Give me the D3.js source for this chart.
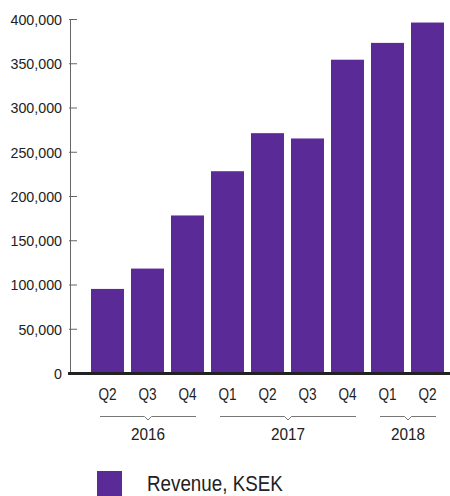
<!DOCTYPE html>
<html>
<head>
<meta charset="utf-8">
<script src="https://cdn.jsdelivr.net/npm/d3@7"></script>
<style>
  body { margin: 0; background: #fff; }
  svg { display: block; font-family: "Liberation Sans", Arial, sans-serif; }
</style>
</head>
<body>
<svg id="chart" width="450" height="496"></svg>
<script>
// data
var quarters = ['Q2', 'Q3', 'Q4', 'Q1', 'Q2', 'Q3', 'Q4', 'Q1', 'Q2'];
var years = ['2016', '2016', '2016', '2017', '2017', '2017', '2017', '2018', '2018'];
var revenue = [95000, 118000, 178000, 228000, 271000, 265000, 354000, 373000, 396000];
var yTicks = [0, 50000, 100000, 150000, 200000, 250000, 300000, 350000, 400000];
var seriesName = 'Revenue, KSEK';

var barColor = '#5a2a96';
var textColor = '#222';
var svg = d3.select('#chart');

// condensed look: squeeze a text placed at (x, y) horizontally
function squeeze(sel, sx) {
    sel.attr('transform', function () {
        var t = d3.select(this);
        var px = +t.attr('x'), py = +t.attr('y');
        return 'translate(' + px + ',' + py + ') scale(' + sx + ',1) translate(' + (-px) + ',' + (-py) + ')';
    });
}

var ids = quarters.map(function (q, i) { return i; });
var x = d3.scaleBand().domain(ids).range([91, 444]).paddingInner(0.175).paddingOuter(0);
var y = d3.scaleLinear().domain([0, 400000]).range([373, 19]);

// y axis
var yAxis = svg.append('g').attr('transform', 'translate(70,0)')
    .call(d3.axisRight(y).tickValues(yTicks).tickSize(7).tickFormat(d3.format(',')));
yAxis.select('.domain').attr('stroke', '#666').attr('d', 'M0.5,' + y(400000) + 'V' + y(0));
yAxis.selectAll('.tick line').attr('stroke', '#666').attr('x1', -1);
yAxis.selectAll('.tick text')
    .attr('x', -8)
    .attr('y', 0)
    .attr('dy', '0.35em')
    .attr('text-anchor', 'end')
    .attr('fill', textColor)
    .style('font-size', '15.5px')
    .call(squeeze, 0.92);

// bars
svg.append('g').selectAll('rect')
    .data(revenue)
    .join('rect')
    .attr('x', function (d, i) { return x(i); })
    .attr('y', function (d) { return y(d); })
    .attr('width', x.bandwidth())
    .attr('height', function (d) { return y(0) - y(d); })
    .attr('fill', barColor);

// baseline
svg.append('line')
    .attr('x1', 68).attr('x2', 450)
    .attr('y1', y(0) + 0.5).attr('y2', y(0) + 0.5)
    .attr('stroke', '#222').attr('stroke-width', 3);

// quarter labels
svg.append('g').selectAll('text')
    .data(quarters)
    .join('text')
    .attr('x', function (d, i) { return x(i) + x.bandwidth() / 2; })
    .attr('y', 400)
    .attr('text-anchor', 'middle')
    .attr('fill', textColor)
    .style('font-size', '17px')
    .text(function (d) { return d; })
    .call(squeeze, 0.8);

// year brackets
var yearGroups = d3.groups(ids, function (i) { return years[i]; });
var brY = 416.5;
function brStart(g) { return x(g[1][0]) + 9; }
function brEnd(g) { return x(g[1][g[1].length - 1]) + x.bandwidth() - 8; }
var br = svg.append('g').selectAll('g')
    .data(yearGroups)
    .join('g');
br.append('path')
    .attr('fill', 'none')
    .attr('stroke', '#777')
    .attr('stroke-width', 1)
    .attr('d', function (g) {
        var a = brStart(g), b = brEnd(g), m = (a + b) / 2;
        return 'M' + a + ',' + brY + 'H' + (m - 3.5) + 'L' + m + ',' + (brY + 3.5) + 'L' + (m + 3.5) + ',' + brY + 'H' + b;
    });
br.append('text')
    .attr('x', function (g) { return (brStart(g) + brEnd(g)) / 2; })
    .attr('y', 440.5)
    .attr('text-anchor', 'middle')
    .attr('fill', textColor)
    .style('font-size', '16.5px')
    .text(function (g) { return g[0]; })
    .call(squeeze, 0.93);

// legend
svg.append('rect')
    .attr('x', 97).attr('y', 471)
    .attr('width', 25).attr('height', 25)
    .attr('fill', barColor);
svg.append('text')
    .attr('x', 147).attr('y', 491)
    .attr('fill', textColor)
    .style('font-size', '22px')
    .text(seriesName)
    .call(squeeze, 0.855);
</script>
</body>
</html>
